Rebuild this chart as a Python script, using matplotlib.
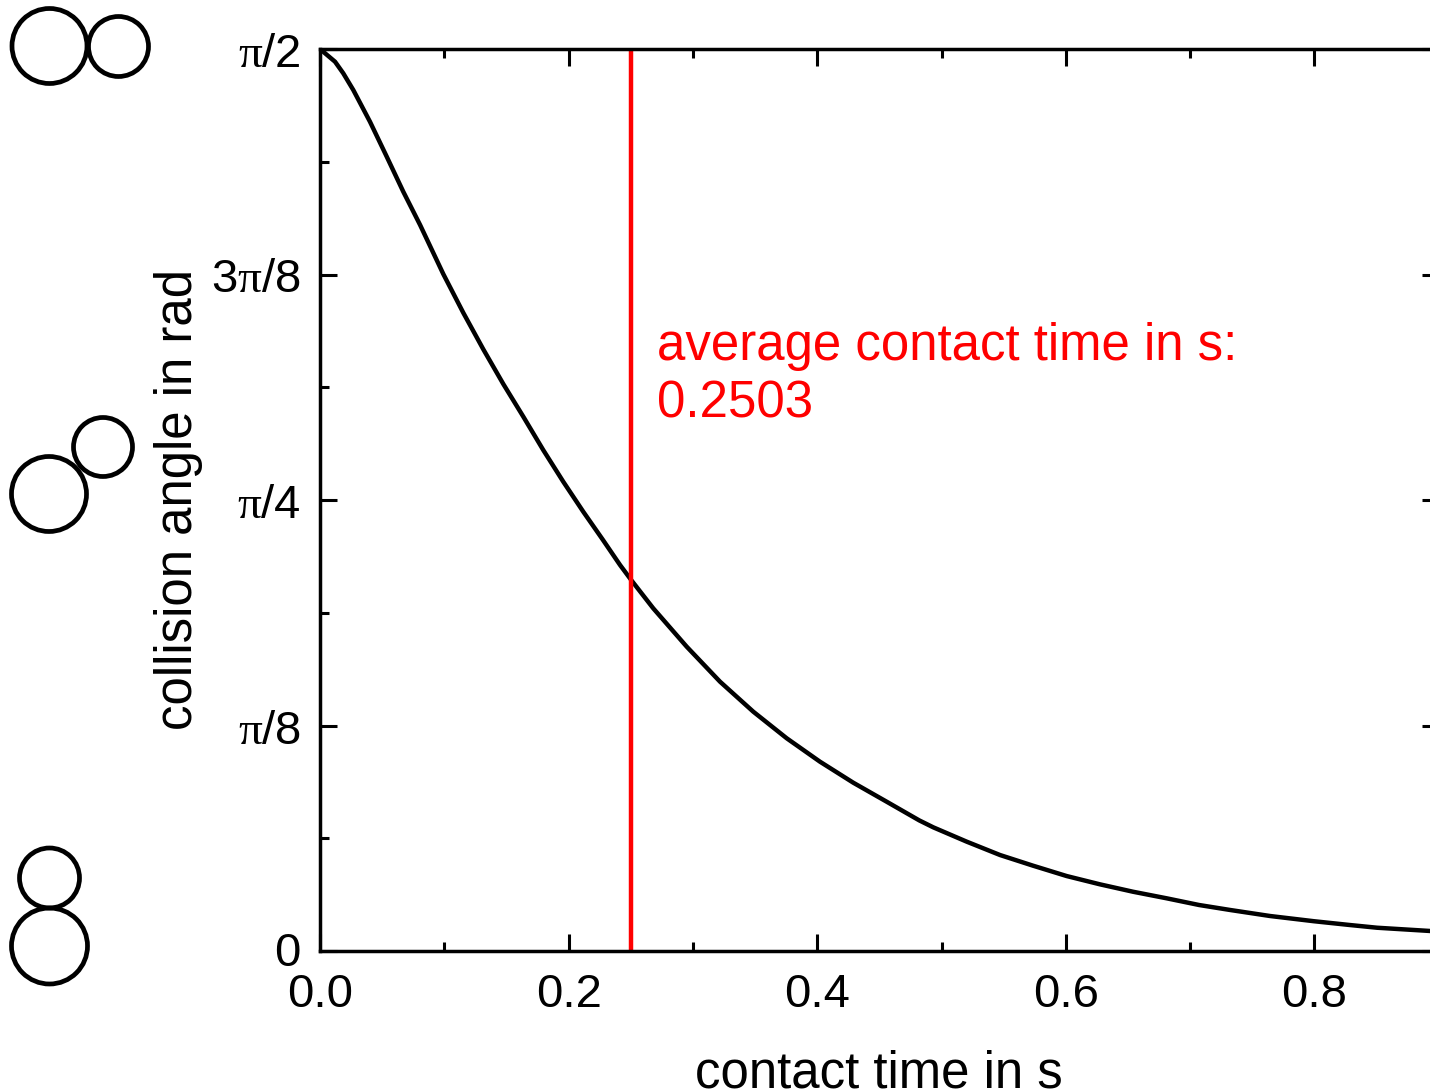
# contact time vs collision angle, with the three collision sketches on the left
import numpy as np
import matplotlib
matplotlib.use("Agg")
import matplotlib.pyplot as plt
from matplotlib.patches import Circle
from matplotlib.transforms import ScaledTranslation

plt.rcParams['font.family'] = ['Liberation Sans', 'DejaVu Sans']
plt.rcParams['mathtext.fontset'] = 'custom'
plt.rcParams['mathtext.rm'] = 'Liberation Serif'
plt.rcParams['mathtext.it'] = 'Liberation Serif'

# curve, angle given as fraction of pi/2
contact_time = [0.0, 0.0121, 0.0187, 0.0268, 0.0402, 0.0537, 0.0670, 0.0805, 0.0992, 0.1153,
                0.1314, 0.1475, 0.1636, 0.1796, 0.1957, 0.2118, 0.2274, 0.2414, 0.2508, 0.2681,
                0.2950, 0.3218, 0.3486, 0.3755, 0.4022, 0.4290, 0.4559, 0.4821, 0.4934, 0.5203,
                0.5471, 0.5736, 0.6007, 0.6275, 0.6541, 0.6812, 0.7072, 0.7321, 0.7643, 0.7997,
                0.8286, 0.8504, 0.893, 0.90]
angle_frac = [1.0, 0.9859, 0.9731, 0.9545, 0.9194, 0.8806, 0.8418, 0.8050, 0.7505, 0.7075,
              0.6670, 0.6285, 0.5923, 0.5554, 0.5203, 0.4870, 0.4562, 0.4279, 0.4105, 0.3799,
              0.3374, 0.2986, 0.2653, 0.2358, 0.2099, 0.1866, 0.1655, 0.1448, 0.1371, 0.1212,
              0.1064, 0.0946, 0.0831, 0.0739, 0.0657, 0.0584, 0.0510, 0.0455, 0.0388, 0.0330,
              0.0288, 0.0258, 0.0222, 0.0215]
avg_contact = 0.2503

x_ticks = [0.0, 0.2, 0.4, 0.6, 0.8]
x_minor = [0.1, 0.3, 0.5, 0.7, 0.9]
y_ticks = [0, np.pi/8, np.pi/4, 3*np.pi/8, np.pi/2]
y_minor = [np.pi/16, 3*np.pi/16, 5*np.pi/16, 7*np.pi/16]
y_labels = ['0', r'$\pi$/8', r'$\pi$/4', r'3$\pi$/8', r'$\pi$/2']

# sketches: (x, y, radius) in image pixels
circles = [(49.5, 46, 37.5), (118.5, 46.5, 30),
           (49, 494, 37.5), (103, 447, 29.5),
           (49.5, 878, 30), (49.5, 946, 38)]

W, H = 1430, 1092
fig = plt.figure(figsize=(W/100, H/100), dpi=100)

left, right, top, bottom = 320, 1438.7, 49, 951
ax = fig.add_axes([left/W, 1-bottom/H, (right-left)/W, (bottom-top)/H])
ax.set_xlim(0, 0.9)
ax.set_ylim(0, np.pi/2)

ax.plot(contact_time, np.array(angle_frac)*np.pi/2, color='black', lw=3.2)
ax.axvline(avg_contact, color='red', lw=3.2)

ax.set_xticks(x_ticks)
ax.set_xticks(x_minor, minor=True)
ax.set_yticks(y_ticks)
ax.set_yticks(y_minor, minor=True)
ax.set_yticklabels(y_labels)
ax.tick_params(which='major', direction='in', top=True, right=True, length=12.5, width=2.2, labelsize=34)
ax.tick_params(which='minor', direction='in', top=True, right=True, length=6.5, width=2.2)
ax.tick_params(axis='x', which='major', pad=15.7)
ax.tick_params(axis='y', which='major', pad=13.7)
# nudge the y labels onto their ticks, the plain 0 sits differently from the pi ones
for lab in ax.get_yticklabels():
    dy = 0.02 if lab.get_text() == '0' else -0.01
    lab.set_transform(lab.get_transform() + ScaledTranslation(0, dy, fig.dpi_scale_trans))
for s in ax.spines.values():
    s.set_linewidth(2.5)

fig.text(657/W, 1-360/H, 'average contact time in s:', color='red', fontsize=36.7, va='baseline')
fig.text(657/W, 1-418/H, '0.2503', color='red', fontsize=36.7, va='baseline')

fig.text(879/W, 1-1088/H, 'contact time in s', fontsize=36.7, ha='center', va='baseline')
fig.text(203/W, 1-500/H, 'collision angle in rad', fontsize=36.7, rotation=90, ha='right', va='center')

# overlay in pixel coordinates for the circles
over = fig.add_axes([0, 0, 1, 1], zorder=-1)
over.set_xlim(0, W)
over.set_ylim(H, 0)
over.axis('off')
for cx, cy, r in circles:
    over.add_patch(Circle((cx, cy), r, fill=False, edgecolor='black', lw=3.4))

fig.savefig('out.png', dpi=100)
